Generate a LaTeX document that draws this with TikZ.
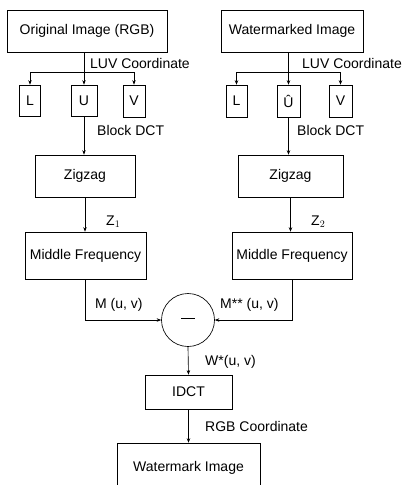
\documentclass[tikz,border=0pt]{standalone}
\usepackage{fontspec}
\setmainfont{Liberation Sans}
\usetikzlibrary{arrows.meta}
\begin{document}
\begin{tikzpicture}[x=1pt,y=-1pt,
  every node/.style={font=\fontsize{14}{16}\selectfont, inner sep=0pt},
  box/.style={draw, line width=0.65pt, minimum width=#1, anchor=center},
  lab/.style={anchor=west},
  conn/.style={line width=0.65pt},
  arr/.style={line width=0.65pt, -{Stealth[length=4.5pt,width=3.5pt]}}]
\useasboundingbox (0,0) rectangle (405,485);
\clip (0,0) rectangle (405,485);
% left column
\node[box=160pt, minimum height=42pt] (orig) at (87,31) {Original Image (RGB)};
\node[box=21pt, minimum height=31pt] (L1) at (30,100.5) {L};
\node[box=26pt, minimum height=31pt] (U1) at (84,100.5) {U};
\node[box=22pt, minimum height=32pt] (V1) at (134,101) {V};
\coordinate (j1) at (84,72);
\node[box=100pt, minimum height=42pt] (zz1) at (85,176) {Zigzag};
\node[box=121pt, minimum height=47pt] (mf1) at (85.5,255.5) {Middle Frequency};
% right column
\node[box=142pt, minimum height=42pt] (wmd) at (292,31) {Watermarked Image};
\node[box=21pt, minimum height=32pt] (L2) at (236.5,101) {L};
\node[box=23pt, minimum height=32pt] (U2) at (288.5,101) {Û};
\node[box=23pt, minimum height=32pt] (V2) at (340.5,101) {V};
\coordinate (j2) at (288.5,72);
\node[box=105pt, minimum height=42pt] (zz2) at (290.5,176) {Zigzag};
\node[box=120pt, minimum height=47pt] (mf2) at (292,255.5) {Middle Frequency};
% subtract
\node[draw, circle, line width=0.65pt, minimum size=53pt] (sub) at (188,320) {\rule[0.35ex]{14pt}{1pt}};
\node[box=87pt, minimum height=34pt] (idct) at (188.5,392) {IDCT};
\node[box=143pt, minimum height=50pt] (wm) at (188.5,468) {Watermark Image};
% connectors left
\draw[conn] (orig.south -| j1) -- (j1);
\draw[conn] (L1.north |- j1) -- (V1.north |- j1);
\draw[arr] (L1.north |- j1) -- (L1.north);
\draw[arr] (j1) -- (U1.north);
\draw[arr] (V1.north |- j1) -- (V1.north);
\draw[arr] (U1.south) -- (zz1.north -| U1);
\draw[arr] (zz1.south) -- (mf1.north -| zz1);
% connectors right
\draw[conn] (wmd.south -| j2) -- (j2);
\draw[conn] (L2.north |- j2) -- (V2.north |- j2);
\draw[arr] (L2.north |- j2) -- (L2.north);
\draw[arr] (j2) -- (U2.north);
\draw[arr] (V2.north |- j2) -- (V2.north);
\draw[arr] (U2.south) -- (zz2.north -| U2);
\draw[arr] (zz2.south) -- (mf2.north -| zz2);
% to subtractor
\draw[arr] (mf1.south) |- (sub.west);
\draw[arr] (mf2.south) |- (sub.east);
\draw[arr] (sub.south) -- (idct.north);
\draw[arr] (idct.south) -- (wm.north);
% labels
\node[lab] (luv1) at (90,63) {LUV Coordinate};
\node[lab] (luv2) at (302,63) {LUV Coordinate};
\node[lab] (bd1) at (97,130) {Block DCT};
\node[lab] (bd2) at (297,130) {Block DCT};
\node[lab] (z1) at (106,222) {Z$_1$};
\node[lab] (z2) at (311,222) {Z$_2$};
\node[lab] (muv) at (95,305) {M (u, v)};
\node[lab] (mss) at (220,305) {M** (u, v)};
\node[lab] (wuv) at (205,362) {W*(u, v)};
\node[lab] (rgb) at (205,426) {RGB Coordinate};
\end{tikzpicture}
\end{document}
